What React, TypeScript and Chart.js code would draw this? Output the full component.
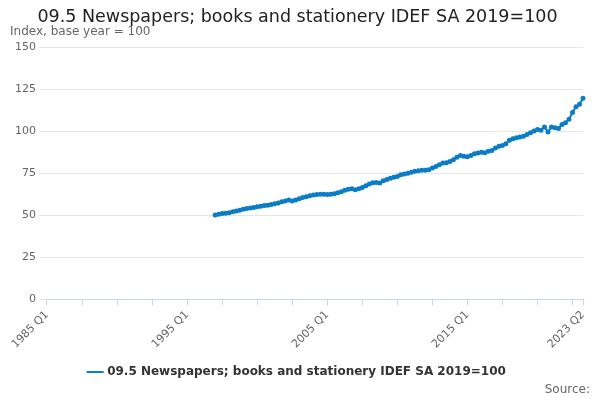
import React, { useEffect, useRef } from "react";
import { Chart, registerables } from "chart.js";
Chart.register(...registerables);

const quarters: string[] = [];
for (let y = 1985; y <= 2023; y++) for (let q = 1; q <= 4; q++) { if (y === 2023 && q > 2) break; quarters.push(`${y} Q${q}`); }
const firstDataIndex = 48; // 1997 Q1
const values = [
  50.2, 50.6, 51, 51.2,
  51.5, 52, 52.5, 53,
  53.5, 54, 54.3, 54.6,
  55, 55.4, 55.8, 56,
  56.3, 56.8, 57.3, 58,
  58.5, 59, 58.5, 59,
  59.8, 60.5, 61, 61.5,
  62, 62.3, 62.5, 62.4,
  62.3, 62.5, 62.8, 63.3,
  64, 64.8, 65.5, 65.8,
  65.2, 65.8, 66.5, 67.5,
  68.5, 69.3, 69.5, 69.2,
  70.5, 71.3, 72, 72.5,
  73, 74, 74.5, 75,
  75.5, 76.2, 76.5, 76.8,
  76.8, 77, 78, 79,
  80, 81, 81.2, 82,
  83, 84.5, 85.5, 85,
  84.8, 85.5, 86.5, 87,
  87.5, 87.2, 88, 88.5,
  90, 91, 91.5, 92.5,
  94.5, 95.5, 96, 96.5,
  97, 98, 99, 100,
  101, 100.5, 102.5, 99.5,
  102.5, 102, 101.5, 104,
  105, 107, 111, 114.5,
  116, 119.5,
];
const seriesName = "09.5 Newspapers; books and stationery IDEF SA 2019=100";
const labelIdx = [0, 40, 80, 120, 153];

export default function App() {
  const ref = useRef<HTMLCanvasElement>(null);
  useEffect(() => {
    const data = quarters.map((_, i) => (i >= firstDataIndex ? values[i - firstDataIndex] ?? null : null));
    const chart = new Chart(ref.current!, {
      type: "line",
      data: {
        labels: quarters,
        datasets: [{
          label: seriesName, data, borderColor: "#0a7dc6", backgroundColor: "#0a7dc6",
          borderWidth: 2, pointRadius: 1.5, pointHoverRadius: 3, spanGaps: false,
        }],
      },
      options: {
        animation: false, responsive: false,
        layout: { padding: { left: 12, right: 17, top: 0, bottom: 12 } },
        plugins: {
          title: { display: true, text: "09.5 Newspapers; books and stationery IDEF SA 2019=100", color: "#222", font: { family: "DejaVu Sans", size: 17.5, weight: "normal" }, padding: { top: 7, bottom: 19 } },
          legend: { position: "bottom", labels: { color: "#333", font: { family: "DejaVu Sans", size: 12, weight: "bold" }, usePointStyle: true, pointStyle: "line", boxWidth: 18, padding: 12 } },
          tooltip: { enabled: false },
        },
        scales: {
          x: {
            grid: { display: true, drawOnChartArea: false, color: "#ccd6eb", tickLength: 6 },
            border: { color: "#ccd6eb" },
            afterBuildTicks: (axis: any) => {
              const t: any[] = [];
              for (let i = 0; i <= 150; i += 10) t.push({ value: i });
              t.push({ value: 153 });
              axis.ticks = t;
            },
            ticks: {
              autoSkip: false, maxRotation: 45, minRotation: 45, color: "#666",
              font: { family: "DejaVu Sans", size: 11 },
              callback: (v: any) => (labelIdx.includes(v) ? quarters[v] : ""),
            },
          },
          y: {
            min: 0, max: 150,
            ticks: { stepSize: 25, color: "#666", font: { family: "DejaVu Sans", size: 11 } },
            grid: { color: "#e6e6e6" },
            border: { display: false },
          },
        },
      },
      plugins: [{
        id: "texts",
        afterDraw: (c: any) => {
          const ctx = c.ctx; ctx.save();
          ctx.font = "12px DejaVu Sans"; ctx.fillStyle = "#666"; ctx.textAlign = "right"; ctx.textBaseline = "bottom";
          ctx.fillText("Source:", c.width - 10, c.height - 4);
          ctx.textAlign = "left"; ctx.textBaseline = "middle";
          ctx.fillText("Index, base year = 100", 10, 32);
          ctx.restore();
        },
      }],
    } as any);
    return () => chart.destroy();
  }, []);
  return <canvas ref={ref} width={600} height={400} style={{ position: "absolute", left: 0, top: 0 }} />;
}
